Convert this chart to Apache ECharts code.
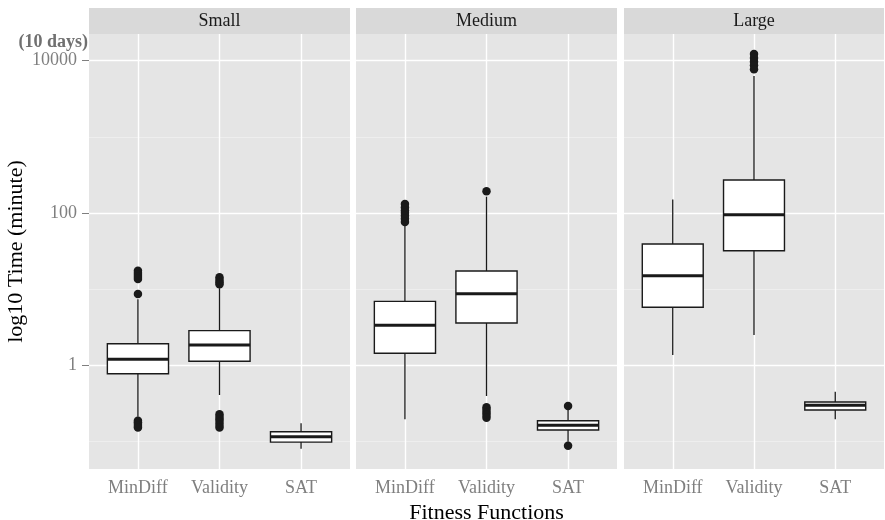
<!DOCTYPE html>
<html>
<head>
<meta charset="utf-8">
<script src="https://cdn.jsdelivr.net/npm/echarts@6/dist/echarts.min.js"></script>
<style>
html,body{margin:0;padding:0;background:#fff;}
#chart{width:885px;height:520px;}
</style>
</head>
<body>
<div id="chart"></div>
<script>
// ---- data (minutes) ----
const facets = ['Small', 'Medium', 'Large'];
const categories = ['MinDiff', 'Validity', 'SAT'];
const yTickValues = [1, 100, 10000];
const yMinorValues = [0.1, 10, 1000];
const topNote = '(10 days)';

// box stats: [lower whisker, Q1, median, Q3, upper whisker]
const smallMinDiff  = [0.211, 0.776, 1.2, 1.92, 7.36];
const smallValidity = [0.407, 1.13, 1.85, 2.85, 10.3];
const smallSAT      = [0.080, 0.098, 0.115, 0.134, 0.173];
const mediumMinDiff  = [0.195, 1.44, 3.35, 6.9, 67.5];
const mediumValidity = [0.395, 3.6, 8.7, 17.3, 164];
const mediumSAT      = [0.099, 0.141, 0.163, 0.187, 0.259];
const largeMinDiff  = [1.37, 5.78, 15, 39.2, 151];
const largeValidity = [2.5, 32, 95, 271, 6300];
const largeSAT      = [0.195, 0.259, 0.298, 0.33, 0.45];

// outliers
const smallMinDiffOut  = [17.5, 16.3, 15.3, 14.4, 13.6, 8.64, 0.187, 0.178, 0.169, 0.16, 0.152];
const smallValidityOut = [14.3, 13.2, 12.3, 11.6, 0.227, 0.21, 0.195, 0.18, 0.165, 0.152];
const smallSATOut      = [];
const mediumMinDiffOut  = [131, 118, 108, 100, 92, 84, 76];
const mediumValidityOut = [193, 0.281, 0.26, 0.24, 0.222, 0.205];
const mediumSATOut      = [0.292, 0.088];
const largeMinDiffOut  = [];
const largeValidityOut = [12250, 10900, 9700, 8700, 7710];
const largeSATOut      = [];

const boxes = [
  [smallMinDiff, smallValidity, smallSAT],
  [mediumMinDiff, mediumValidity, mediumSAT],
  [largeMinDiff, largeValidity, largeSAT]
];
const outs = [
  [smallMinDiffOut, smallValidityOut, smallSATOut],
  [mediumMinDiffOut, mediumValidityOut, mediumSATOut],
  [largeMinDiffOut, largeValidityOut, largeSATOut]
];

// ---- layout ----
const FONT = "'Liberation Serif', 'DejaVu Serif', serif";
const grids = [
  {left: 89, top: 34, width: 261, height: 435},
  {left: 356, top: 34, width: 261, height: 435},
  {left: 624, top: 34, width: 260, height: 435}
];
const yMin = -1.362, yMax = 4.351;
const lg = v => Math.log10(v);

function renderBox(params, api) {
  const x = api.value(0);
  const lo = api.coord([x, api.value(1)]);
  const q1 = api.coord([x, api.value(2)]);
  const med = api.coord([x, api.value(3)]);
  const q3 = api.coord([x, api.value(4)]);
  const hi = api.coord([x, api.value(5)]);
  const w = api.size([0.75, 0])[0];
  const cx = med[0];
  const col = '#1a1a1a';
  return {
    type: 'group',
    children: [
      {type: 'line', shape: {x1: cx, y1: hi[1], x2: cx, y2: q3[1]}, style: {stroke: col, lineWidth: 1.3}},
      {type: 'line', shape: {x1: cx, y1: q1[1], x2: cx, y2: lo[1]}, style: {stroke: col, lineWidth: 1.3}},
      {type: 'rect', shape: {x: cx - w / 2, y: q3[1], width: w, height: q1[1] - q3[1]},
        style: {fill: '#ffffff', stroke: col, lineWidth: 1.4}},
      {type: 'line', shape: {x1: cx - w / 2, y1: med[1], x2: cx + w / 2, y2: med[1]}, style: {stroke: col, lineWidth: 3}}
    ]
  };
}

const xAxes = [], yAxes = [], series = [], graphics = [];
facets.forEach((f, i) => {
  xAxes.push({
    type: 'value', gridIndex: i, min: 0.4, max: 3.6,
    axisLine: {show: false},
    axisTick: {show: true, customValues: [1, 2, 3], length: 7, lineStyle: {color: '#7f7f7f', width: 1}},
    axisLabel: {customValues: [1, 2, 3], formatter: v => categories[Math.round(v) - 1] || '',
      color: '#7f7f7f', fontFamily: FONT, fontSize: 18, margin: 10},
    splitLine: {show: false},
    name: i === 1 ? 'Fitness Functions' : '',
    nameLocation: 'middle', nameGap: 24,
    nameTextStyle: {color: '#000', fontFamily: FONT, fontSize: 22}
  });
  yAxes.push({
    type: 'value', gridIndex: i, min: yMin, max: yMax,
    axisLine: {show: false},
    axisTick: {show: i === 0, customValues: yTickValues.map(lg), length: 7, lineStyle: {color: '#7f7f7f', width: 1}},
    axisLabel: {show: i === 0, customValues: yTickValues.map(lg),
      formatter: v => String(Math.round(Math.pow(10, v))),
      color: '#7f7f7f', fontFamily: FONT, fontSize: 18, margin: 12},
    splitLine: {show: false},
    name: i === 0 ? 'log10 Time (minute)' : '',
    nameLocation: 'middle', nameGap: 62,
    nameTextStyle: {color: '#000', fontFamily: FONT, fontSize: 22}
  });
  // grid lines
  const ml = [];
  yMinorValues.forEach(v => ml.push({yAxis: lg(v), lineStyle: {color: '#f2f2f2', width: 0.7, type: 'solid'}}));
  yTickValues.forEach(v => ml.push({yAxis: lg(v), lineStyle: {color: '#ffffff', width: 1.4, type: 'solid'}}));
  categories.forEach((c, k) => ml.push({xAxis: k + 1, lineStyle: {color: '#ffffff', width: 1.4, type: 'solid'}}));
  series.push({
    type: 'line', xAxisIndex: i, yAxisIndex: i, data: [], z: 1, silent: true,
    markLine: {silent: true, z: 1, symbol: ['none', 'none'], label: {show: false}, animation: false,
      emphasis: {disabled: true}, data: ml}
  });
  series.push({
    type: 'custom', xAxisIndex: i, yAxisIndex: i, z: 10, silent: true,
    renderItem: renderBox,
    encode: {x: 0, y: [1, 2, 3, 4, 5]},
    data: boxes[i].map((b, k) => [k + 1].concat(b.map(lg)))
  });
  const pts = [];
  outs[i].forEach((arr, k) => arr.forEach(v => pts.push([k + 1, lg(v)])));
  series.push({
    type: 'scatter', xAxisIndex: i, yAxisIndex: i, z: 11, silent: true,
    symbol: 'circle', symbolSize: 8.5,
    itemStyle: {color: '#1a1a1a', opacity: 1},
    data: pts
  });
  const g = grids[i];
  graphics.push({type: 'rect', shape: {x: g.left, y: 8, width: g.width, height: 26}, style: {fill: '#d9d9d9'}, z: 0});
  graphics.push({type: 'text', x: g.left + g.width / 2, y: 21,
    style: {text: f, fill: '#1a1a1a', font: '18px ' + FONT, textAlign: 'center', textVerticalAlign: 'middle'}});
});
graphics.push({type: 'text', x: 88, y: 42,
  style: {text: topNote, fill: '#707070', font: 'bold 18px ' + FONT, textAlign: 'right', textVerticalAlign: 'middle'}});

const chart = echarts.init(document.getElementById('chart'), null, {renderer: 'canvas'});
chart.setOption({
  animation: false,
  backgroundColor: '#ffffff',
  grid: grids.map(g => Object.assign({show: true, backgroundColor: '#e5e5e5', borderWidth: 0,
    containLabel: false, outerBoundsMode: 'none'}, g)),
  xAxis: xAxes,
  yAxis: yAxes,
  series: series,
  graphic: graphics
});
</script>
</body>
</html>
